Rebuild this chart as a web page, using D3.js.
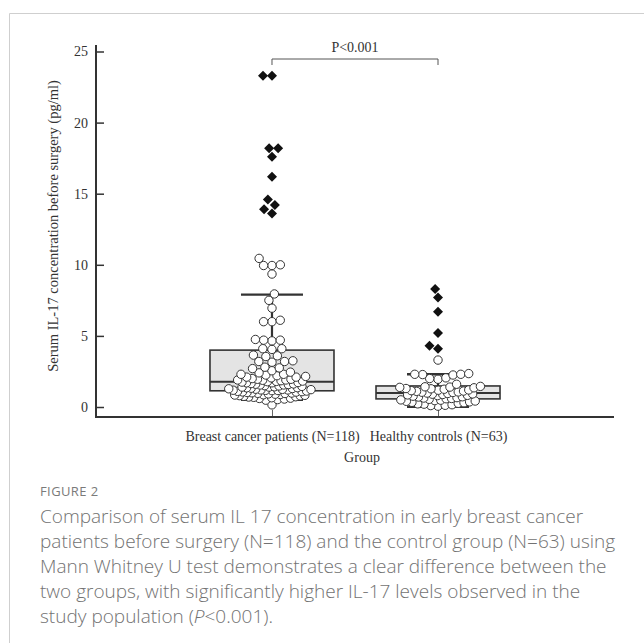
<!DOCTYPE html>
<html>
<head>
<meta charset="utf-8">
<script src="https://cdn.jsdelivr.net/npm/d3@7"></script>
<style>
  body { margin: 0; background: #fff; }
</style>
</head>
<body>
<svg id="chart"></svg>
<script>
// groups on the x axis
const groups = ["Breast cancer patients (N=118)", "Healthy controls (N=63)"];

// serum IL-17 (pg/ml)
const patientValues = [
  10.45, 10.0, 9.95, 9.95, 9.35, 7.95, 7.5, 6.95, 6.1, 6.0, 6.0,
  4.75, 4.7, 4.7, 4.65, 4.1, 4.1, 4.05, 3.65, 3.6, 3.55, 3.25, 3.2, 3.2, 3.15,
  2.8, 2.75, 2.7,
  2.55, 2.45, 2.4, 2.3, 2.3, 2.25, 2.2, 2.15, 2.1, 2.1, 2.05, 2.0, 1.95, 1.95,
  1.9, 1.9, 1.88, 1.85, 1.82, 1.8, 1.78,
  1.75, 1.72, 1.7, 1.7, 1.65, 1.62, 1.6, 1.58, 1.55, 1.55, 1.5, 1.48, 1.45,
  1.42, 1.4, 1.4, 1.36, 1.35, 1.32, 1.3, 1.28, 1.25, 1.24, 1.22, 1.2, 1.2,
  1.18, 1.17, 1.16, 1.15,
  1.12, 1.1, 1.08, 1.06, 1.05, 1.02, 1.0, 0.98, 0.96, 0.95, 0.92, 0.9, 0.88,
  0.86, 0.84, 0.82, 0.8, 0.78, 0.75, 0.72, 0.7, 0.68, 0.65, 0.62, 0.6, 0.56,
  0.52, 0.48, 0.15
];
const patientOutliers = [23.3, 23.3, 18.2, 18.2, 17.6, 16.2, 14.6, 14.2, 13.9, 13.6];

const controlValues = [
  3.3, 2.35, 2.3, 2.3, 2.28, 2.25, 2.05, 2.0, 1.95, 1.6,
  1.45, 1.42, 1.4, 1.38, 1.35, 1.3, 1.28, 1.25, 1.2, 1.18, 1.15, 1.12, 1.1,
  1.06, 1.04, 1.02,
  0.98, 0.95, 0.92, 0.9, 0.88, 0.85, 0.82, 0.8, 0.76, 0.72, 0.7, 0.66, 0.63,
  0.6, 0.58,
  0.54, 0.5, 0.48, 0.45, 0.42, 0.4, 0.36, 0.33, 0.3, 0.26, 0.22, 0.2, 0.16,
  0.12, 0.1, 0.06
];
const controlOutliers = [8.3, 7.7, 6.7, 5.2, 4.3, 4.1];

// box summaries per group
const q1 = [1.14, 0.57];
const medians = [1.77, 0.99];
const q3 = [4.0, 1.48];
const whiskerLow = [0.5, 0.02];
const whiskerHigh = [7.9, 2.3];

const yTicks = [0, 5, 10, 15, 20, 25];

const captionLines = [
  "Comparison of serum IL 17 concentration in early breast cancer",
  "patients before surgery (N=118) and the control group (N=63) using",
  "Mann Whitney U test demonstrates a clear difference between the",
  "two groups, with significantly higher IL-17 levels observed in the"
];

const width = 644;
const height = 643;
const serif = "'Liberation Serif', 'Times New Roman', serif";
const ink = "#333";

const svg = d3.select("#chart")
  .attr("width", width)
  .attr("height", height)
  .style("display", "block");

// card frame
svg.append("path")
  .attr("d", "M9.5,643 V13.5 H644")
  .attr("fill", "none")
  .attr("stroke", "#cfcfcf");

const y = d3.scaleLinear().domain([0, 25]).range([407, 51.5]);
const x = d3.scalePoint().domain(groups).range([96, 614]).padding(1.06);

const boxHalf = 62;
const capHalf = 31;

// y axis
svg.append("g")
  .attr("transform", "translate(96,0)")
  .call(d3.axisLeft(y).tickValues(yTicks).tickSizeInner(-8).tickSizeOuter(0).tickPadding(8))
  .call(g => g.select(".domain").remove())
  .call(g => g.selectAll(".tick line").attr("stroke", ink).attr("stroke-width", 1.5))
  .call(g => g.selectAll(".tick text")
    .attr("font-family", serif).attr("font-size", 14).attr("fill", ink));

// x axis
svg.append("g")
  .attr("transform", "translate(0,417)")
  .call(d3.axisBottom(x).tickSizeInner(-7).tickSizeOuter(0).tickPadding(14))
  .call(g => g.select(".domain").remove())
  .call(g => g.selectAll(".tick line").attr("stroke", "#666").attr("stroke-width", 1))
  .call(g => g.selectAll(".tick text")
    .attr("font-family", serif).attr("font-size", 14).attr("fill", ink));

svg.append("path")
  .attr("d", "M96,45 V417 H614")
  .attr("fill", "none")
  .attr("stroke", ink)
  .attr("stroke-width", 2);

// axis titles
svg.append("text")
  .attr("transform", "translate(53,226) rotate(-90)")
  .attr("text-anchor", "middle")
  .attr("dy", "0.35em")
  .attr("font-family", serif)
  .attr("font-size", 14.5)
  .attr("fill", ink)
  .text("Serum IL-17 concentration before surgery (pg/ml)");

svg.append("text")
  .attr("x", 362)
  .attr("y", 462)
  .attr("text-anchor", "middle")
  .attr("font-family", serif)
  .attr("font-size", 14)
  .attr("fill", ink)
  .text("Group");

// boxes and whiskers
const boxes = svg.append("g")
  .selectAll("g")
  .data(groups)
  .join("g");

boxes.append("line")
  .attr("x1", d => x(d)).attr("x2", d => x(d))
  .attr("y1", (d, i) => y(q3[i])).attr("y2", (d, i) => y(whiskerHigh[i]))
  .attr("stroke", ink).attr("stroke-width", 2.2);
boxes.append("line")
  .attr("x1", d => x(d)).attr("x2", d => x(d))
  .attr("y1", (d, i) => y(q1[i])).attr("y2", (d, i) => y(whiskerLow[i]))
  .attr("stroke", ink).attr("stroke-width", 2.2);

boxes.append("rect")
  .attr("x", d => x(d) - boxHalf)
  .attr("width", boxHalf * 2)
  .attr("y", (d, i) => y(q3[i]))
  .attr("height", (d, i) => y(q1[i]) - y(q3[i]))
  .attr("fill", "#e4e4e4")
  .attr("stroke", ink)
  .attr("stroke-width", 1.6);

boxes.append("line")
  .attr("x1", d => x(d) - boxHalf).attr("x2", d => x(d) + boxHalf)
  .attr("y1", (d, i) => y(medians[i])).attr("y2", (d, i) => y(medians[i]))
  .attr("stroke", ink).attr("stroke-width", 2);

[whiskerHigh, whiskerLow].forEach(w => {
  boxes.append("line")
    .attr("x1", d => x(d) - capHalf).attr("x2", d => x(d) + capHalf)
    .attr("y1", (d, i) => y(w[i])).attr("y2", (d, i) => y(w[i]))
    .attr("stroke", ink).attr("stroke-width", 2.4);
});

// beeswarm: each point goes as close to the centre as it can.
// Where values crowd together the spacing shrinks so the dots overlap,
// the way the original dot plot packs its dense band.
function swarm(values, cx, maxGap, minGap) {
  const sorted = values.slice().sort((a, b) => a - b);
  const pts = sorted.map(v => {
    const n = sorted.filter(u => Math.abs(u - v) <= 0.25).length;
    return { v, y: y(v), g: Math.max(minGap, Math.min(maxGap, 9.2 - 0.22 * n)) };
  });
  const placed = [];
  pts.forEach(p => {
    const spans = [];
    placed.forEach(q => {
      const gap = (p.g + q.g) / 2;
      const dy = q.y - p.y;
      if (Math.abs(dy) < gap) {
        const w = Math.sqrt(gap * gap - dy * dy);
        spans.push([q.x - w, q.x + w]);
      }
    });
    const candidates = [cx];
    spans.forEach(s => candidates.push(s[0], s[1]));
    candidates.sort((a, b) => Math.abs(a - cx) - Math.abs(b - cx));
    p.x = candidates.find(c => spans.every(s => c <= s[0] + 1e-6 || c >= s[1] - 1e-6));
    placed.push(p);
  });
  return placed;
}

const circleData = [
  ...swarm(patientValues, x(groups[0]), 8.4, 4.6),
  ...swarm(controlValues, x(groups[1]), 8.4, 4.6)
];
const diamondData = [
  ...swarm(patientOutliers, x(groups[0]), 9, 9),
  ...swarm(controlOutliers, x(groups[1]), 9, 9)
];

svg.append("g")
  .selectAll("circle")
  .data(circleData)
  .join("circle")
  .attr("cx", d => d.x)
  .attr("cy", d => d.y)
  .attr("r", 4.2)
  .attr("fill", "#fff")
  .attr("stroke", ink)
  .attr("stroke-width", 1);

svg.append("g")
  .selectAll("path")
  .data(diamondData)
  .join("path")
  .attr("transform", d => `translate(${d.x},${d.y})`)
  .attr("d", "M0,-5L5,0L0,5L-5,0Z")
  .attr("fill", "#111");

// significance bracket
const xa = x(groups[0]);
const xb = x(groups[1]);
svg.append("path")
  .attr("d", `M${xa},65 V59 H${xb} V65`)
  .attr("fill", "none")
  .attr("stroke", "#555")
  .attr("stroke-width", 1);
svg.append("text")
  .attr("x", (xa + xb) / 2)
  .attr("y", 52)
  .attr("text-anchor", "middle")
  .attr("font-family", serif)
  .attr("font-size", 14)
  .attr("fill", ink)
  .text("P<0.001");

// caption
const sans = "'Open Sans', 'Noto Sans', sans-serif";
svg.append("text")
  .attr("x", 40)
  .attr("y", 496)
  .attr("font-family", sans)
  .attr("font-size", 13)
  .attr("letter-spacing", 0.4)
  .attr("fill", "#7a7a7a")
  .text("FIGURE 2");

const cap = svg.append("g")
  .attr("font-family", sans)
  .attr("font-size", 19)
  .attr("font-weight", 300)
  .attr("fill", "#727272");

const lineStep = 25;
captionLines.forEach((t, i) => {
  cap.append("text").attr("x", 40).attr("y", 523 + i * lineStep).text(t);
});
const last = cap.append("text").attr("x", 40).attr("y", 523 + 4 * lineStep);
last.append("tspan").text("study population (");
last.append("tspan").attr("font-style", "italic").text("P");
last.append("tspan").text("<0.001).");
</script>
</body>
</html>
